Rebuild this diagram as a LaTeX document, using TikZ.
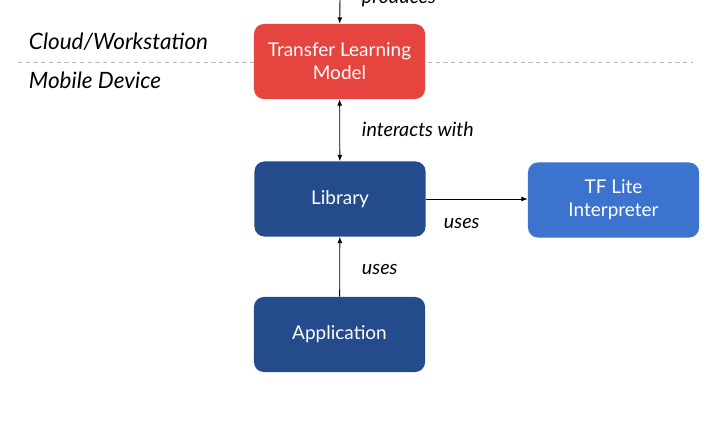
\documentclass[tikz,border=0pt]{standalone}
\usepackage{fontspec}
\setmainfont{Lato}
\usetikzlibrary{arrows.meta}
\definecolor{modelred}{HTML}{E6453F}
\definecolor{libblue}{HTML}{244B8B}
\definecolor{tfblue}{HTML}{3C73CF}
\tikzset{
  block/.style={rounded corners=7pt, minimum width=4.275cm, minimum height=1.875cm,
    text=white, align=center, font=\fontsize{13.5}{16.5}\selectfont},
  lbl/.style={anchor=west, font=\itshape\fontsize{14}{16}\selectfont},
  side/.style={anchor=west, font=\itshape\fontsize{16}{18}\selectfont},
  link/.style={line width=0.6pt, -{Latex[length=4.5pt,width=3.5pt]}}
}
\begin{document}
\begin{tikzpicture}[x=0.025cm,y=-0.025cm]
\useasboundingbox (0,0) rectangle (728,421);
\coordinate (L) at (18,62);
\coordinate (R) at (693,62);
\coordinate (Top) at (340,-10);
\draw [gray!55, line width=0.6pt, dash pattern=on 3pt off 2.5pt] (L) -- (R);
\node [side] (cloud) at (24,42) {Cloud/Workstation};
\node [side] (mobile) at (24,80) {Mobile Device};
\node [block, fill=modelred] (model) at (339.5,61.5) {Transfer Learning\\Model};
\node [block, fill=libblue] (library) at (340,199) {Library};
\node [block, fill=tfblue] (tflite) at (613.5,200) {TF Lite\\Interpreter};
\node [block, fill=libblue] (app) at (339.5,334.5) {Application};
\draw [link] (Top) -- (model);
\draw [link, {Latex[length=4.5pt,width=3.5pt]}-{Latex[length=4.5pt,width=3.5pt]}] (model) -- (library);
\draw [link] (library) -- (library -| tflite.west);
\draw [link] (app) -- (library);
\node [lbl] (produces) at (357,-2) {produces};
\node [lbl] (interacts) at (357,129) {interacts with};
\node [lbl] (uses1) at (439,224) {uses};
\node [lbl] (uses2) at (357,270) {uses};
\end{tikzpicture}
\end{document}
